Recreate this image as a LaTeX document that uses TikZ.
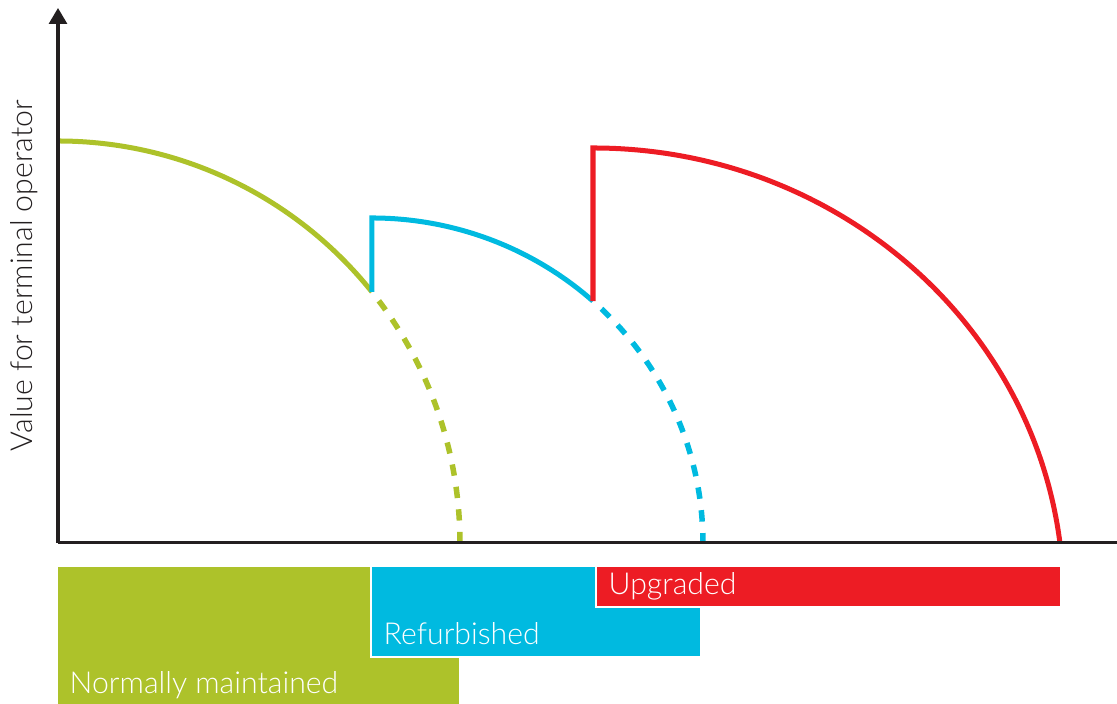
\documentclass[tikz,border=0pt]{standalone}
\usepackage{fontspec}
\setmainfont{Lato}[UprightFont=* Light]
\usepackage{tikz}
\usetikzlibrary{arrows.meta}

\definecolor{maintgreen}{RGB}{173,194,42}
\definecolor{refurbblue}{RGB}{0,186,224}
\definecolor{upgradered}{RGB}{237,28,36}
\definecolor{axisgray}{RGB}{35,31,32}

\tikzset{
    curve/.style={line width=0.05cm},
    dashcurve/.style={line width=0.055cm, dash pattern=on #1 off #1, dash phase=#1},
    bar/.style={draw=white, line width=0.025cm},
    barlabel/.style={white, anchor=base west, inner sep=0pt, font=\fontsize{8.6pt}{10pt}\selectfont}
}

\begin{document}
\begin{tikzpicture}[x=0.01cm, y=0.01cm]
    \useasboundingbox (0,0) rectangle (1117,704);

    % Junction points of the value curves
    \coordinate (O) at (58,161);
    \coordinate (J1) at (371.9,412.1);
    \coordinate (J2) at (593.0,402.9);

    % Normally maintained
    \draw[curve, maintgreen] (58,563) arc[start angle=90, end angle=38.65, radius=402];
    \draw[dashcurve=0.113cm, maintgreen] (J1) arc[start angle=38.65, end angle=0, radius=402];

    % Refurbished
    \draw[curve, refurbblue] (J1) -- (371.9,486) arc[start angle=90, end angle=48.1, x radius=331, y radius=325];
    \draw[dashcurve=0.1147cm, refurbblue] (J2) arc[start angle=48.1, end angle=0, x radius=331, y radius=325];

    % Upgraded
    \draw[curve, upgradered] (J2) -- (593,556) arc[start angle=90, end angle=7.02, x radius=470.5, y radius=450];

    % Axes
    \coordinate (ytop) at (58,696);
    \coordinate (xend) at (1117,161);
    \draw[axisgray, line width=0.03cm, -{Triangle[width=0.18cm, length=0.16cm]}] (O) -- (ytop);
    \draw[axisgray, line width=0.03cm] (O) -- (xend);
    \node[axisgray, rotate=90, anchor=base west, inner sep=0pt, font=\fontsize{8.6pt}{10pt}\selectfont] (ylabel) at (33,252) {Value for terminal operator};

    % Bars
    \fill[maintgreen] (58,0) rectangle (459,137);
    \filldraw[bar, fill=refurbblue] (371,47) rectangle (701,138);
    \filldraw[bar, fill=upgradered] (596,97) rectangle (1061,138);

    \node[barlabel] (normal) at (69,10) {Normally maintained};
    \node[barlabel] (refurb) at (383,59) {Refurbished};
    \node[barlabel] (upgr) at (608,109) {Upgraded};
\end{tikzpicture}
\end{document}
